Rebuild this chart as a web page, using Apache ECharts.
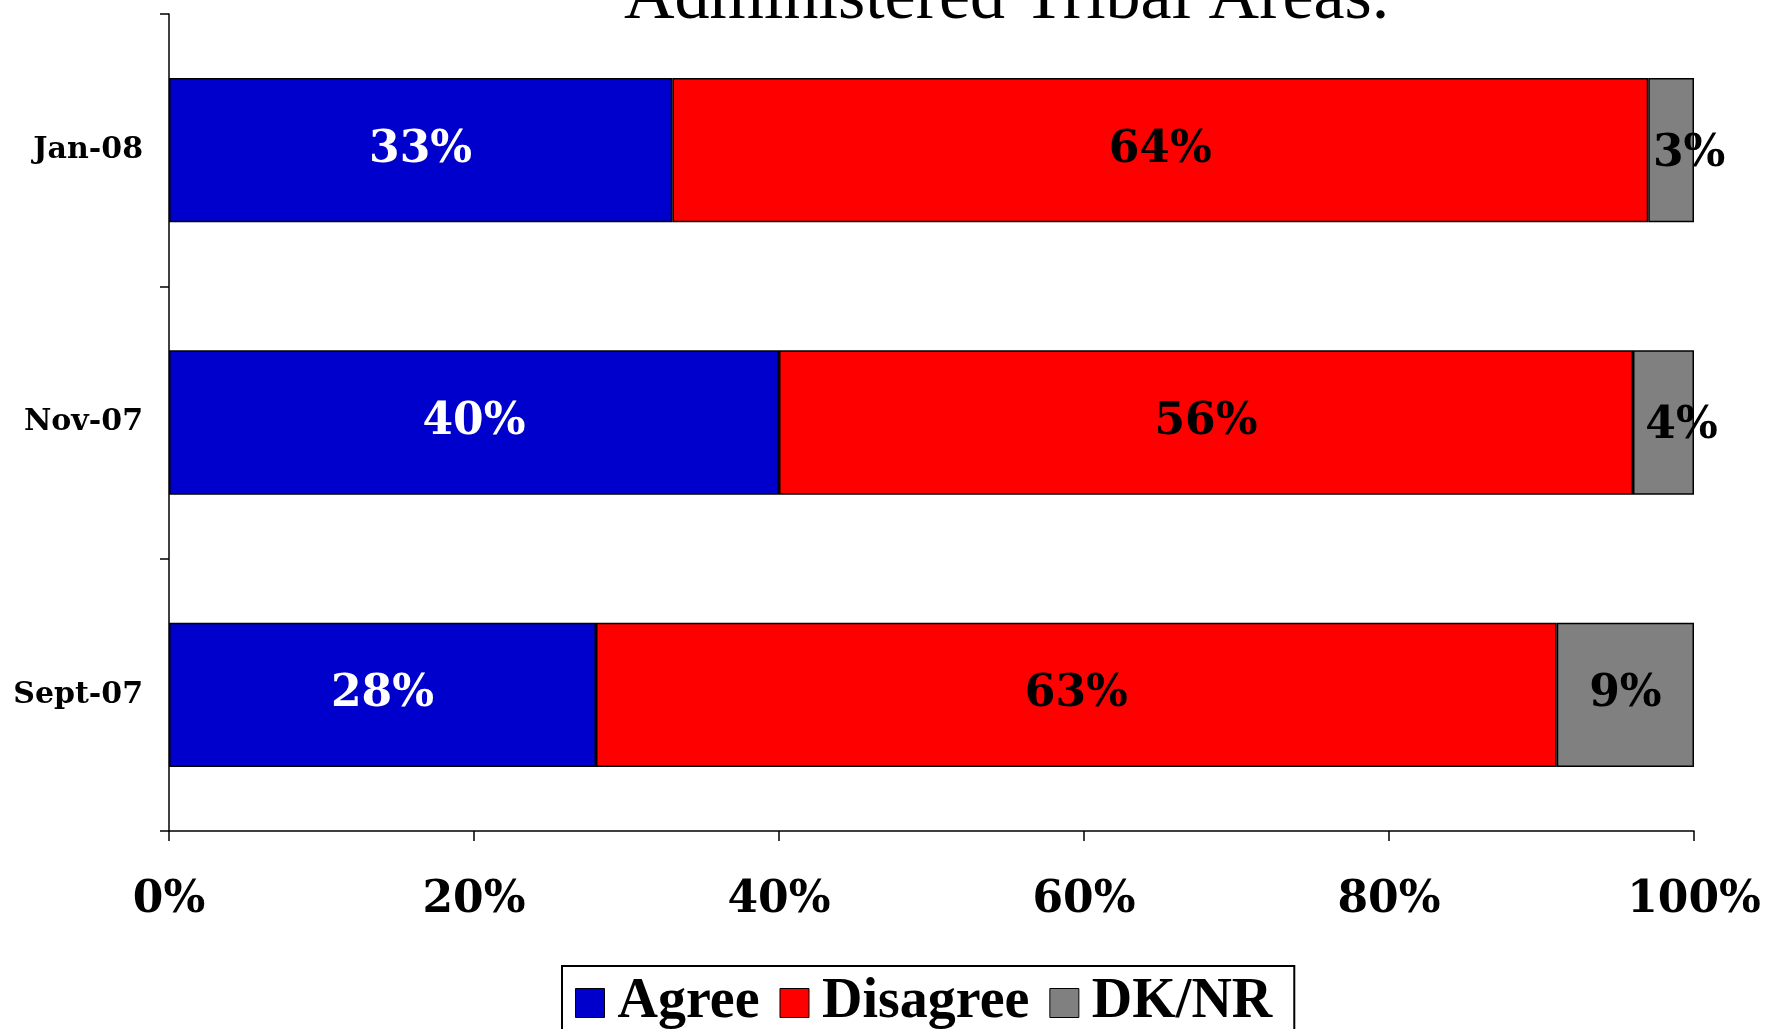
<!DOCTYPE html>
<html><head><meta charset="utf-8">
<script src="https://cdn.jsdelivr.net/npm/echarts@6/dist/echarts.min.js"></script>
<style>html,body{margin:0;padding:0;background:#fff}#c{width:1766px;height:1029px}</style>
</head><body><div id="c"></div>
<script>
const categories = ['Jan-08', 'Nov-07', 'Sept-07'];
const agree = [33, 40, 28];
const disagree = [64, 56, 63];
const dknr = [3, 4, 9];
const xTicks = [0, 20, 40, 60, 80, 100];
const titleText = 'Administered Tribal Areas.';

const serif = '"DejaVu Serif", serif';
const chart = echarts.init(document.getElementById('c'));
function mk(name, data, color, labelColor) {
  return {
    name, type: 'bar', stack: 'all', barWidth: '53%',
    itemStyle: { color, borderColor: '#000', borderWidth: 1.5 },
    label: {
      show: true, position: 'inside', formatter: '{c}%',
      color: labelColor, fontFamily: serif, fontWeight: 'bold', fontSize: 44
    },
    data: data.map(v => v < 5 ? { value: v, label: { offset: [18, 4] } } : v)
  };
}
chart.setOption({
  animation: false,
  title: {
    text: titleText, left: 619, top: -40,
    textStyle: { fontFamily: '"Liberation Serif", serif', fontWeight: 'normal', fontSize: 70, color: '#000' }
  },
  legend: {
    bottom: -42, left: 562,
    padding: [9, 22, 40, 13],
    borderColor: '#000', borderWidth: 2,
    itemWidth: 29, itemHeight: 29, itemGap: 20,
    icon: 'rect',
    textStyle: { fontFamily: '"Liberation Serif", serif', fontWeight: 'bold', fontSize: 56, color: '#000', padding: [0, 0, 0, 8] },
    itemStyle: { borderColor: '#000', borderWidth: 1 },
    data: ['Agree', 'Disagree', 'DK/NR']
  },
  grid: { left: 169, right: 72, top: 14, bottom: 198, containLabel: false },
  xAxis: {
    type: 'value', min: 0, max: 100, interval: 20,
    axisLine: { show: true, lineStyle: { color: '#000', width: 1.5 } },
    axisTick: { show: true, length: 10, lineStyle: { color: '#000', width: 1.5 } },
    splitLine: { show: false },
    axisLabel: {
      margin: 48, color: '#000', fontFamily: serif, fontWeight: 'bold', fontSize: 44,
      formatter: v => xTicks.includes(v) ? v + '%' : ''
    }
  },
  yAxis: {
    type: 'category', data: categories, inverse: true,
    axisLine: { show: true, lineStyle: { color: '#000', width: 1.5 } },
    axisTick: { show: true, length: 9, lineStyle: { color: '#000', width: 1.5 } },
    axisLabel: { margin: 26, color: '#000', fontFamily: serif, fontWeight: 'bold', fontSize: 30 }
  },
  series: [
    mk('Agree', agree, '#0000CC', '#fff'),
    mk('Disagree', disagree, '#FF0000', '#000'),
    mk('DK/NR', dknr, '#808080', '#000')
  ]
});
</script></body></html>
